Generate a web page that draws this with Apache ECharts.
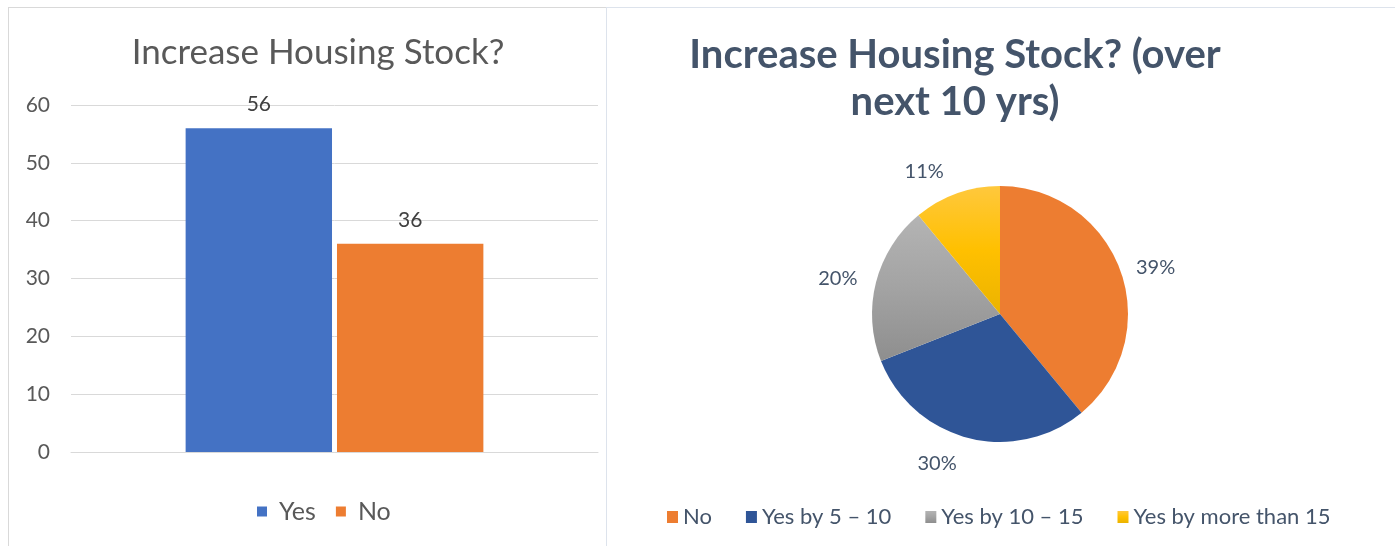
<!DOCTYPE html>
<html>
<head>
<meta charset="utf-8">
<script src="https://cdn.jsdelivr.net/npm/echarts@6/dist/echarts.min.js"></script>
<style>
  html, body { margin: 0; padding: 0; background: #ffffff; overflow: hidden; }
  body { width: 1395px; height: 546px; position: relative; }
  .panel { position: absolute; box-sizing: content-box; }
  #barPanel { left: 8px; top: 7px; width: 597px; height: 560px; border: 1px solid #d9d9d9; }
  #piePanel { left: 606px; top: 7px; width: 800px; height: 560px; border: 1px solid #dde3ec; }
</style>
</head>
<body>
<div class="panel" id="barPanel"></div>
<div class="panel" id="piePanel"></div>
<script>
"use strict";

// left chart: Yes / No counts
var barCategories = ['Increase Housing Stock?'];
var barSeriesNames = ['Yes', 'No'];
var barValues = [56, 36];
var barColors = ['#4472C4', '#ED7D31'];
var yTickMin = 0, yTickMax = 60, yTickStep = 10;

// right chart: timing shares (percent)
var pieNames = ['No', 'Yes by 5 – 10', 'Yes by 10 – 15', 'Yes by more than 15'];
var pieValues = [39, 30, 20, 11];

var FONT = 'Lato, "Open Sans", sans-serif';

function vGrad(top, mid, bottom) {
  return new echarts.graphic.LinearGradient(0, 0, 0, 1, [
    { offset: 0, color: top },
    { offset: 0.5, color: mid },
    { offset: 1, color: bottom }
  ]);
}

var pieColors = [
  '#ED7D31',
  '#2F5597',
  vGrad('#B4B4B4', '#A3A3A3', '#8E8E8E'),
  vGrad('#FFC83D', '#FFC000', '#EBB300')
];
// outside label offsets per slice (Excel places them a bit irregularly)
var pieLabelLine = [[8, 3], [26, 0], [14, 0], [23, 0]];

/**
 * bar chart on the left
 */
function initBarChart() {
  var chart = echarts.init(document.getElementById('barPanel'), null, { renderer: 'canvas' });
  var series = [];
  for (var i = 0; i < barSeriesNames.length; i++) {
    series.push({
      name: barSeriesNames[i],
      type: 'bar',
      data: [barValues[i]],
      barGap: '3.4%',
      barCategoryGap: '43.5%',
      itemStyle: { color: barColors[i] },
      label: {
        show: true,
        position: 'top',
        distance: 13,
        color: '#404040',
        fontFamily: FONT,
        fontSize: 21
      }
    });
  }
  chart.setOption({
    animation: false,
    title: {
      text: 'Increase Housing Stock?',
      left: 304,
      textAlign: 'center',
      top: 22,
      textStyle: { fontFamily: FONT, fontSize: 35, fontWeight: 'normal', color: '#595959' }
    },
    legend: {
      data: barSeriesNames,
      left: 243,
      top: 486,
      itemWidth: 10,
      itemHeight: 10,
      itemGap: 20,
      icon: 'rect',
      textStyle: { fontFamily: FONT, fontSize: 25, color: '#595959', padding: [0, 0, 0, 7] }
    },
    grid: { left: 62, top: 97, width: 527, height: 347 },
    xAxis: {
      type: 'category',
      data: barCategories,
      axisLine: { lineStyle: { color: '#d9d9d9', width: 1 } },
      axisTick: { show: false },
      axisLabel: { show: false }
    },
    yAxis: {
      type: 'value',
      min: yTickMin,
      max: yTickMax,
      interval: yTickStep,
      axisLine: { show: false },
      axisTick: { show: false },
      axisLabel: { margin: 21, color: '#595959', fontFamily: FONT, fontSize: 21 },
      splitLine: { lineStyle: { color: '#d9d9d9', width: 1 } }
    },
    series: series
  });
  return chart;
}

/**
 * pie chart on the right
 */
function initPieChart() {
  var chart = echarts.init(document.getElementById('piePanel'), null, { renderer: 'canvas' });
  var data = [];
  for (var i = 0; i < pieNames.length; i++) {
    data.push({
      name: pieNames[i],
      value: pieValues[i],
      itemStyle: { color: pieColors[i] },
      labelLine: { length: pieLabelLine[i][0], length2: pieLabelLine[i][1] }
    });
  }
  chart.setOption({
    animation: false,
    title: {
      text: 'Increase Housing Stock? (over\nnext 10 yrs)',
      left: 343,
      textAlign: 'center',
      top: 19,
      textStyle: { fontFamily: FONT, fontSize: 40, fontWeight: 'bold', color: '#44546A', lineHeight: 47 }
    },
    legend: {
      data: pieNames,
      left: 55,
      top: 493,
      itemWidth: 11,
      itemHeight: 12,
      itemGap: 34,
      icon: 'rect',
      textStyle: { fontFamily: FONT, fontSize: 22, color: '#44546A' }
    },
    series: [{
      type: 'pie',
      center: [393, 306],
      radius: 128,
      startAngle: 90,
      clockwise: true,
      data: data,
      itemStyle: { borderColor: '#ffffff', borderWidth: 0 },
      label: {
        show: true,
        position: 'outside',
        formatter: '{d}%',
        color: '#44546A',
        fontFamily: FONT,
        fontSize: 20
      },
      labelLine: { show: false }
    }]
  });
  return chart;
}

var barChart = initBarChart();
var pieChart = initPieChart();
</script>
</body>
</html>
